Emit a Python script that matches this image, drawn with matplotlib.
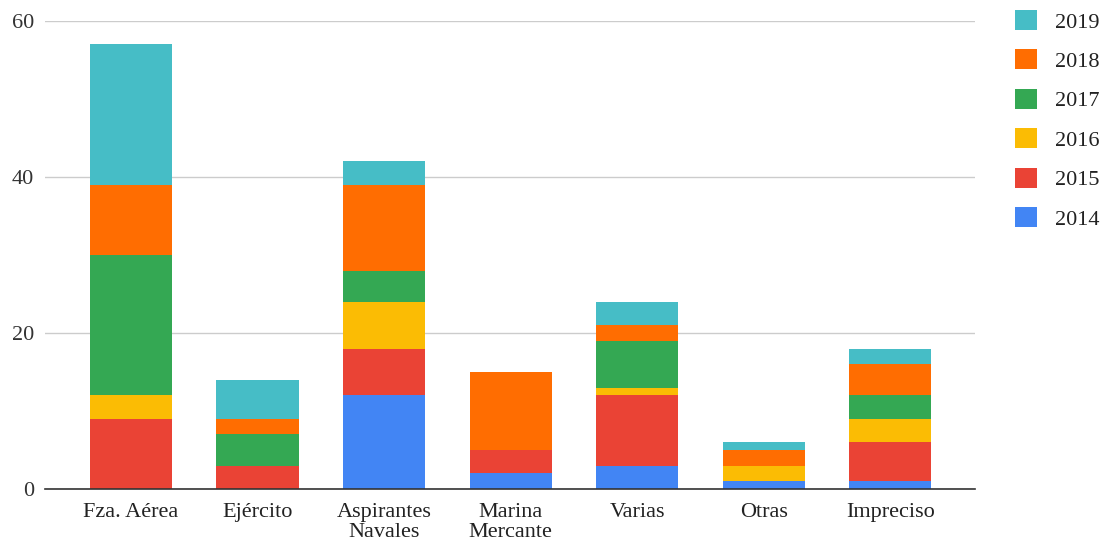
import matplotlib
matplotlib.use("Agg")
import matplotlib.pyplot as plt
from matplotlib.patches import Patch
import numpy as np

plt.rcParams['font.family'] = ['Liberation Serif', 'DejaVu Serif']

#Data
categories = ['Fza. Aérea', 'Ejército', 'Aspirantes\nNavales', 'Marina\nMercante', 'Varias', 'Otras', 'Impreciso']
years = ['2014', '2015', '2016', '2017', '2018', '2019']
v2014 = [0, 0, 12, 2, 3, 1, 1]
v2015 = [9, 3, 6, 3, 9, 0, 5]
v2016 = [3, 0, 6, 0, 1, 2, 3]
v2017 = [18, 4, 4, 0, 6, 0, 3]
v2018 = [9, 2, 11, 10, 2, 2, 4]
v2019 = [18, 5, 3, 0, 3, 1, 2]
series = [v2014, v2015, v2016, v2017, v2018, v2019]
colors = ['#4285F4', '#EA4335', '#FBBC04', '#34A853', '#FF6D01', '#46BDC6']

fig = plt.figure(figsize=(11.07, 5.41), dpi=100)
ax = fig.add_axes([45/1107, 52/541, 930/1107, 468/541])

x = np.arange(len(categories))
bottom = np.zeros(len(categories))
for vals, col, yr in zip(series, colors, years):
    ax.bar(x, vals, width=0.65, bottom=bottom, color=col, label=yr, zorder=3)
    bottom += np.array(vals)

ax.set_ylim(0, 60)
ax.set_xlim(-0.68, 6.67)
ax.set_yticks([0, 20, 40, 60])
ax.set_xticks(x)
ax.set_xticklabels(categories, fontsize=16, linespacing=1.05)
ax.tick_params(axis='y', labelsize=16, length=0, pad=8, labelcolor='#333333')
ax.tick_params(axis='x', length=0, pad=10, labelcolor='#222222')
ax.grid(axis='y', color='#cccccc', linewidth=1, zorder=0)
for s in ['top', 'right', 'left']:
    ax.spines[s].set_visible(False)
ax.spines['bottom'].set_color('#333333')
ax.spines['bottom'].set_linewidth(1.2)
ax.spines['bottom'].set_zorder(4)

handles = [Patch(facecolor=c, label=y) for c, y in zip(colors, years)]
handles = handles[::-1]
fig.legend(handles=handles, loc='upper left', bbox_to_anchor=(1015/1107, 1 - 10/541),
           frameon=False, fontsize=16, handlelength=1.0, handleheight=1.0,
           labelspacing=0.76, handletextpad=0.8, borderpad=0, borderaxespad=0,
           labelcolor='#222222')

fig.savefig('out.png', dpi=100)
